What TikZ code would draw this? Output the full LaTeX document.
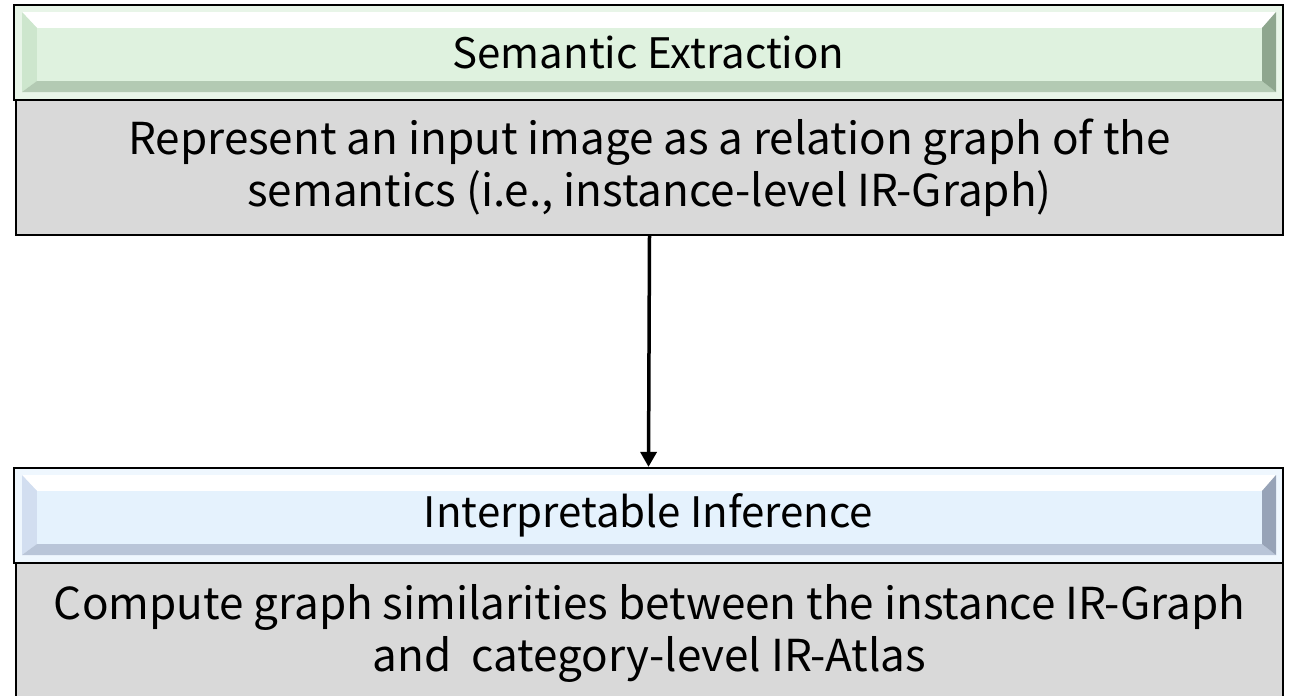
\documentclass[tikz,border=0pt]{standalone}
\usepackage{fontspec}
\setmainfont{Noto Sans CJK SC}
\usetikzlibrary{arrows.meta}
\definecolor{gMargin}{HTML}{E8F5E8}
\definecolor{gFace}{HTML}{DFF2DF}
\definecolor{gLeft}{HTML}{CDE6CD}
\definecolor{gBottom}{HTML}{B3CAB3}
\definecolor{gRight}{HTML}{8EA68E}
\definecolor{bMargin}{HTML}{EFF7FE}
\definecolor{bFace}{HTML}{E5F2FD}
\definecolor{bLeft}{HTML}{D2DEF0}
\definecolor{bBottom}{HTML}{B9C5D8}
\definecolor{bRight}{HTML}{97A3B7}
\definecolor{bodyGray}{HTML}{D9D9D9}
\tikzset{
  bevelhdr/.style n args={5}{
    draw=black, line width=2.2pt, fill=#1, inner sep=0pt,
    font=\fontsize{42}{50}\selectfont,
    path picture={
      \coordinate (onw) at ([shift={(8pt,-7pt)}]path picture bounding box.north west);
      \coordinate (ose) at ([shift={(-7pt,8pt)}]path picture bounding box.south east);
      \coordinate (inw) at ([shift={(23pt,-23pt)}]path picture bounding box.north west);
      \coordinate (ise) at ([shift={(-21pt,19pt)}]path picture bounding box.south east);
      \fill[white] (onw) -- (onw -| ose) -- (inw -| ise) -- (inw) -- cycle;
      \fill[#2] (onw) -- (inw) -- (inw |- ise) -- (onw |- ose) -- cycle;
      \fill[#3] (onw |- ose) -- (inw |- ise) -- (ise) -- (ose) -- cycle;
      \fill[#4] (onw -| ose) -- (ose) -- (ise) -- (inw -| ise) -- cycle;
      \fill[#5] (inw) rectangle (ise);
    }},
  bodybox/.style={draw=black, line width=2.2pt, fill=bodyGray, inner sep=0pt,
    align=center, font=\fontsize{44}{52}\selectfont},
  arr/.style={line width=3.5pt, -{Triangle[width=16pt,length=15pt]}}
}
\begin{document}
\begin{tikzpicture}[x=1pt,y=-1pt]
\useasboundingbox (0,0) rectangle (1293,696);
% top block
\node[bodybox, minimum width=1267pt, minimum height=135pt] (bodyA) at (649.5,167.5)
  {Represent an input image as a relation graph of the\\semantics (i.e., instance-level IR-Graph)};
\node[bevelhdr={gMargin}{gLeft}{gBottom}{gRight}{gFace}, minimum width=1269pt, minimum height=95pt] (hdrA) at (648.5,52.5)
  {Semantic Extraction};
% bottom block
\node[bodybox, minimum width=1267pt, minimum height=140pt] (bodyB) at (649.5,633)
  {Compute graph similarities between the instance IR-Graph\\and\ \ category-level IR-Atlas};
\node[bevelhdr={bMargin}{bLeft}{bBottom}{bRight}{bFace}, minimum width=1269pt, minimum height=95pt] (hdrB) at (648.5,515.5)
  {Interpretable Inference};
% connector
\draw[arr] (bodyA.south) -- (hdrB.north);
\end{tikzpicture}
\end{document}
